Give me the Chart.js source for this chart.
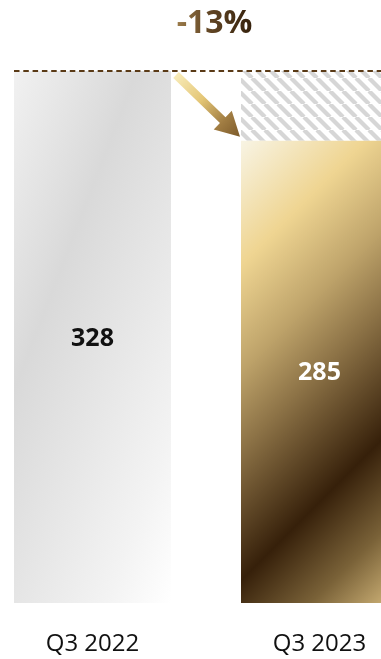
<!DOCTYPE html>
<html>
<head>
<meta charset="utf-8">
<script src="https://cdn.jsdelivr.net/npm/chart.js@4.4.1/dist/chart.umd.min.js"></script>
<style>
    html, body { margin: 0; padding: 0; background: #fff; overflow: hidden; width: 381px; height: 659px; }
    #wrap { position: absolute; left: -21px; top: 0; }
</style>
</head>
<body>
<div id="wrap"><canvas id="bars" width="454" height="659"></canvas></div>
<script>
const quarters = ['Q3 2022', 'Q3 2023'];
const volumes = [328, 285];
const gap = [0, 43];          // shortfall vs. previous year, stacked on top
const changeLabel = '-13%';

const BAR_PCT = 157 / 227;

function barBox(chart, i) {
    const xs = chart.scales.x, ys = chart.scales.y;
    const w = xs.width / quarters.length * BAR_PCT;
    const cx = xs.getPixelForValue(i);
    return {
        left: cx - w / 2, right: cx + w / 2,
        top: ys.getPixelForValue(volumes[i]), bottom: ys.getPixelForValue(0)
    };
}

function barFill(context) {
    const chart = context.chart;
    if (!chart.chartArea) return '#ddd';
    const c = chart.ctx;
    const b = barBox(chart, context.dataIndex);
    if (context.dataIndex === 0) {
        // silver: mostly horizontal sweep, fading to white bottom right
        const ux = 2.6 / Math.hypot(2.6, 1), uy = 1 / Math.hypot(2.6, 1);
        const len = (b.right - b.left) * ux + (b.bottom - b.top) * uy;
        const g = c.createLinearGradient(b.left, b.top, b.left + ux * len, b.top + uy * len);
        g.addColorStop(0, '#f1f1f1');
        g.addColorStop(0.34, '#d9d9d9');
        g.addColorStop(0.6, '#e7e7e7');
        g.addColorStop(0.82, '#f3f3f3');
        g.addColorStop(1, '#ffffff');
        return g;
    }
    // gold: diagonal from cream through dark bronze
    const d = ((b.right - b.left) + (b.bottom - b.top)) / 2;
    const g = c.createLinearGradient(b.left, b.top, b.left + d, b.top + d);
    g.addColorStop(0, '#f8f4e4');
    g.addColorStop(0.2, '#efd592');
    g.addColorStop(0.37, '#bea36a');
    g.addColorStop(0.5, '#8c7246');
    g.addColorStop(0.71, '#36200a');
    g.addColorStop(0.86, '#7a6238');
    g.addColorStop(1, '#d4b87c');
    return g;
}

function hatchPattern() {
    const s = 13;
    const tile = document.createElement('canvas');
    tile.width = s; tile.height = s;
    const t = tile.getContext('2d');
    t.fillStyle = '#fff';
    t.fillRect(0, 0, s, s);
    t.strokeStyle = '#d6d6d6';
    t.lineWidth = 4.2;
    for (let k = -1; k <= 1; k++) {
        t.beginPath();
        t.moveTo(k * s, 0);
        t.lineTo(k * s + s, s);
        t.stroke();
    }
    return document.getElementById('bars').getContext('2d').createPattern(tile, 'repeat');
}

const decorations = {
    id: 'decorations',
    afterDatasetsDraw(chart) {
        const c = chart.ctx;
        const ys = chart.scales.y;
        const b0 = barBox(chart, 0), b1 = barBox(chart, 1);

        // reference line at last year's level
        c.save();
        c.strokeStyle = '#5a3a16';
        c.lineWidth = 2;
        c.setLineDash([5.5, 3.8]);
        c.beginPath();
        const yRef = Math.round(ys.getPixelForValue(volumes[0]));
        c.moveTo(b0.left, yRef);
        c.lineTo(chart.width, yRef);
        c.stroke();
        c.restore();

        // arrow from bar top to bar top
        const x1 = b0.right + 5, y1 = ys.getPixelForValue(volumes[0]) + 4;
        const x2 = b1.left - 1, y2 = ys.getPixelForValue(volumes[1]) - 4;
        const len = Math.hypot(x2 - x1, y2 - y1);
        const ang = Math.atan2(y2 - y1, x2 - x1);
        const shaft = 4, head = 24, headHalf = 13;
        c.save();
        c.translate(x1, y1);
        c.rotate(ang);
        const ag = c.createLinearGradient(0, 0, len, 0);
        ag.addColorStop(0, '#f8ebb8');
        ag.addColorStop(0.4, '#e4c676');
        ag.addColorStop(0.75, '#a07c42');
        ag.addColorStop(1, '#7c5a2a');
        c.fillStyle = ag;
        c.beginPath();
        c.moveTo(0, -shaft);
        c.lineTo(len - head, -shaft);
        c.lineTo(len - head, -headHalf);
        c.lineTo(len, 0);
        c.lineTo(len - head, headHalf);
        c.lineTo(len - head, shaft);
        c.lineTo(0, shaft);
        c.closePath();
        c.fill();
        c.restore();

        // values inside bars
        c.save();
        c.font = 'bold 25px "Open Sans"';
        c.textAlign = 'center';
        c.textBaseline = 'middle';
        [b0, b1].forEach((b, i) => {
            c.fillStyle = i === 0 ? '#111' : '#fff';
            c.fillText(String(volumes[i]), (b.left + b.right) / 2, (b.top + b.bottom) / 2 + 1.5);
        });
        c.restore();

        // change headline
        c.save();
        c.font = 'bold 32px "Open Sans"';
        c.textAlign = 'center';
        c.textBaseline = 'alphabetic';
        const tx = 235.5;
        const tg = c.createLinearGradient(tx - 38, 0, tx + 38, 0);
        tg.addColorStop(0, '#9c7c4a');
        tg.addColorStop(0.4, '#654826');
        tg.addColorStop(1, '#35210c');
        c.fillStyle = tg;
        c.fillText(changeLabel, tx, 33);
        c.restore();
    }
};

const chart = new Chart(document.getElementById('bars'), {
    type: 'bar',
    data: {
        labels: quarters,
        datasets: [{
            data: volumes,
            backgroundColor: barFill,
            borderWidth: 0,
            barPercentage: BAR_PCT,
            categoryPercentage: 1
        }, {
            data: gap,
            backgroundColor: hatchPattern(),
            borderWidth: 0,
            barPercentage: BAR_PCT,
            categoryPercentage: 1
        }]
    },
    options: {
        responsive: false,
        animation: false,
        devicePixelRatio: 1,
        layout: { padding: { top: 71, left: 0, right: 0, bottom: 0 } },
        plugins: { legend: { display: false }, tooltip: { enabled: false } },
        scales: {
            x: {
                stacked: true,
                grid: { display: false, drawTicks: false },
                border: { display: false },
                ticks: { color: '#111', font: { family: 'Open Sans', size: 24 }, padding: 27 },
                afterFit(scale) { scale.height = 56; }
            },
            y: {
                stacked: true,
                display: false,
                min: 0,
                max: 328
            }
        }
    },
    plugins: [decorations]
});
</script>
</body>
</html>
